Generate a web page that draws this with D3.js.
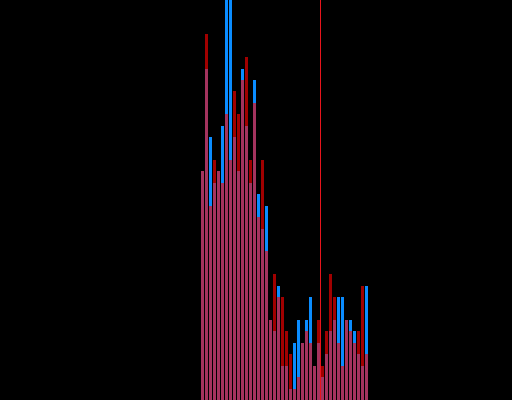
<!DOCTYPE html>
<html>
<head>
<meta charset="utf-8">
<script src="https://cdn.jsdelivr.net/npm/d3@7"></script>
<style>
  html, body { margin: 0; padding: 0; background: #000; }
  svg { display: block; }
</style>
</head>
<body>
<svg width="512" height="400"></svg>
<script>
// histogram counts per bin, two series drawn on top of each other
var bins = d3.range(42);
var blueCounts = [20, 29, 23, 19, 20, 24, 37, 36, 23, 20, 29, 24, 19, 28,
                  18, 15, 17, 7, 6, 10, 3, 3, 1, 5, 7, 5, 7, 9,
                  3, 5, 2, 4, 6, 7, 9, 9, 7, 7, 6, 4, 3, 10];
var redCounts  = [20, 32, 17, 21, 20, 19, 25, 21, 27, 25, 28, 30, 21, 26,
                  16, 21, 13, 7, 11, 9, 9, 6, 4, 1, 2, 5, 6, 5,
                  3, 7, 3, 6, 11, 9, 5, 3, 7, 6, 5, 6, 10, 4];
var markerBin = 30;

var svg = d3.select("svg"),
    width = +svg.attr("width"),
    height = +svg.attr("height");

var x = d3.scaleLinear()
    .domain([0, bins.length])
    .range([200, 368]);

var y = d3.scaleLinear()
    .domain([0, 35])
    .range([height, 0]);

var barW = x(1) - x(0) - 1;

svg.append("g")
  .selectAll("rect")
  .data(bins)
  .enter().append("rect")
    .attr("x", function(d) { return x(d) + 1; })
    .attr("y", function(d) { return y(blueCounts[d]); })
    .attr("width", barW)
    .attr("height", function(d) { return height - y(blueCounts[d]); })
    .attr("fill", "#0a8cff")
    .attr("shape-rendering", "crispEdges");

svg.append("g")
  .selectAll("rect")
  .data(bins)
  .enter().append("rect")
    .attr("x", function(d) { return x(d) + 1; })
    .attr("y", function(d) { return y(redCounts[d]); })
    .attr("width", barW)
    .attr("height", function(d) { return height - y(redCounts[d]); })
    .attr("fill", "#ff0000")
    .attr("fill-opacity", 0.63)
    .attr("shape-rendering", "crispEdges");

// vertical marker line
svg.append("line")
    .attr("x1", x(markerBin) + 0.5)
    .attr("x2", x(markerBin) + 0.5)
    .attr("y1", 0)
    .attr("y2", height)
    .attr("stroke", "#e8141c")
    .attr("stroke-width", 1);
</script>
</body>
</html>
